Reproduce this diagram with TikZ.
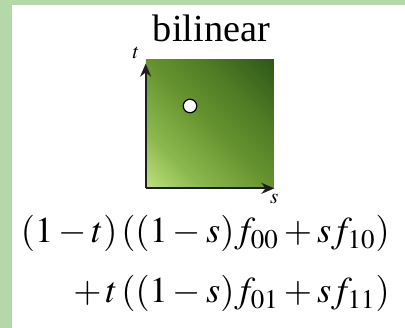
\documentclass[tikz,border=0pt]{standalone}
\usepackage{mathptmx}
\usepackage[no-math]{fontspec}
\setmainfont{Liberation Serif}
\newfontfamily\titlefont{Liberation Serif}
\usetikzlibrary{arrows.meta, positioning}
\definecolor{bgstrip}{HTML}{B5D8A8}
\definecolor{sqlight}{HTML}{C6E888}
\definecolor{sqlmid}{HTML}{8CB94E}
\definecolor{sqmid}{HTML}{66932F}
\definecolor{sqdmid}{HTML}{4C7824}
\definecolor{sqdark}{HTML}{2F5819}
\definecolor{axisdark}{HTML}{1E1E1E}
\pgfdeclareverticalshading{patchshade}{100bp}{color(0bp)=(sqlight); color(12bp)=(sqlight);
  color(30bp)=(sqlmid); color(50bp)=(sqmid); color(68bp)=(sqdmid);
  color(85bp)=(sqdark); color(100bp)=(sqdark)}

\begin{document}
\begin{tikzpicture}[
    patch/.style={rectangle, minimum size=25.6mm, inner sep=0pt,
                  shading=patchshade, shading angle=-45},
    axis/.style={-{Stealth[length=2.6mm, width=2.2mm]}, line width=1.1pt, color=axisdark},
    lbl/.style={font=\fontsize{12}{12}\selectfont, inner sep=0pt},
    sample/.style={circle, draw=black, fill=white, line width=0.7pt,
                   minimum size=2.7mm, inner sep=0pt},
    formula/.style={font=\fontsize{20.7}{24}\selectfont, inner sep=0pt}
]
\useasboundingbox (0,0) rectangle (8.1,6.56);
\fill[bgstrip] (0,0) rectangle (0.24,6.56);
\fill[bgstrip] (0,6.46) rectangle (8.1,6.56);

\node[font=\titlefont\fontsize{21.8}{26}\selectfont, inner sep=0pt, anchor=base]
    (title) at (4.23,5.72) {bilinear};

\node[patch] (patch) at (4.20,4.08) {};
\node[sample] (pt) at (3.80,4.44) {};

\draw[axis] (patch.south west) -- ([yshift=-0.8mm]patch.north west);
\draw[axis] (patch.south west) -- (patch.south east);
\node[lbl, above left=0.2mm and 1.2mm of patch.north west] (tlab) {$t$};
\node[lbl, below=1mm of patch.south east] (slab) {$s$};

\node[formula, anchor=base east] (line1) at (7.80,1.70)
    {$(1-t)\,((1-s)f_{00}+sf_{10})$};
\node[formula, anchor=base east] (line2) at ([yshift=-12mm]line1.base east)
    {$+\,t\,((1-s)f_{01}+sf_{11})$};
\end{tikzpicture}
\end{document}
